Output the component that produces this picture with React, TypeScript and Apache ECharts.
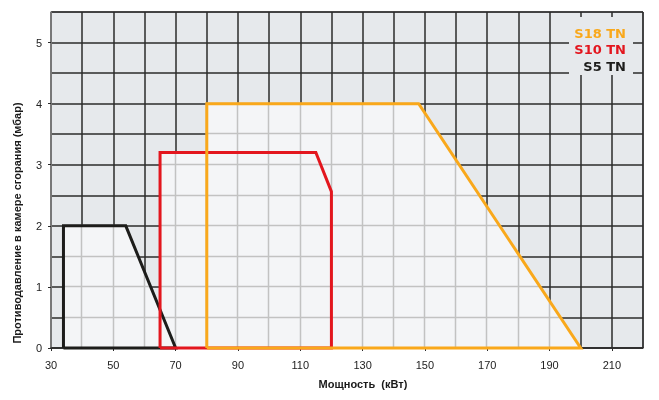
import React, { useEffect, useRef } from "react";
import * as echarts from "echarts";

const seriesNames = ["S5 TN", "S10 TN", "S18 TN"];
const seriesColors = ["#1d1d1b", "#e3161e", "#f9a81b"];
const s5Power = [34, 34, 54, 70, 34];
const s5Pressure = [0, 2, 2, 0, 0];
const s10Power = [65, 65, 115, 120, 120, 65];
const s10Pressure = [0, 3.2, 3.2, 2.56, 0, 0];
const s18Power = [80, 80, 148, 200, 80];
const s18Pressure = [0, 4, 4, 0, 0];
const xTickLabels = [30, 50, 70, 90, 110, 130, 150, 170, 190, 210];
const yTickLabels = [0, 1, 2, 3, 4, 5];
const xGridLines = [40, 50, 60, 70, 80, 90, 100, 110, 120, 130, 140, 150, 160, 170, 180, 190, 200, 210];
const yGridLines = [0.5, 1, 1.5, 2, 2.5, 3, 3.5, 4, 4.5, 5];
const xTitle = "Мощность  (кВт)";
const yTitle = "Противодавление в камере сгорания (мбар)";

const envelopes = [
  s5Power.map((x, i) => [x, s5Pressure[i]]),
  s10Power.map((x, i) => [x, s10Pressure[i]]),
  s18Power.map((x, i) => [x, s18Pressure[i]]),
];

function crossings(poly: number[][], value: number, axis: number): number[] | null {
  const other = 1 - axis;
  const vals: number[] = [];
  for (let i = 0; i < poly.length - 1; i++) {
    const a = poly[i];
    const b = poly[i + 1];
    if (a[axis] === b[axis]) {
      if (a[axis] === value) {
        vals.push(a[other], b[other]);
      }
      continue;
    }
    if ((a[axis] - value) * (b[axis] - value) <= 0) {
      const t = (value - a[axis]) / (b[axis] - a[axis]);
      vals.push(a[other] + t * (b[other] - a[other]));
    }
  }
  if (!vals.length) return null;
  return [Math.min(...vals), Math.max(...vals)];
}

function unionIntervals(value: number, axis: number): number[][] {
  const list: number[][] = [];
  envelopes.forEach((p) => {
    const c = crossings(p, value, axis);
    if (c && c[1] > c[0]) list.push(c);
  });
  list.sort((a, b) => a[0] - b[0]);
  const merged: number[][] = [];
  list.forEach((iv) => {
    const last = merged[merged.length - 1];
    if (last && iv[0] <= last[1]) last[1] = Math.max(last[1], iv[1]);
    else merged.push([iv[0], iv[1]]);
  });
  return merged;
}

function sp(v: number): number {
  const d = Math.round(v * 2);
  return (d + 1) % 2 === 0 ? d / 2 : (d - 1) / 2;
}

const FONT = '"Liberation Sans", Arial, sans-serif';
const OUT_BG = "#e6e9ec";
const IN_BG = "#f4f5f7";
const DARK = "#2b2b2b";

export default function App() {
  const ref = useRef<HTMLDivElement>(null);
  useEffect(() => {
    if (!ref.current) return;
    const chart = echarts.init(ref.current, undefined, { renderer: "svg" });
    const labelStyle = { fontSize: 11, color: "#222", fontFamily: FONT };
    const option: any = {
      animation: false,
      grid: {
        left: 51,
        right: 16,
        top: 12,
        bottom: 52,
        show: true,
        backgroundColor: OUT_BG,
        borderColor: DARK,
        borderWidth: 1,
      },
      xAxis: [
        {
          type: "value",
          min: 30,
          max: 220,
          interval: 10,
          position: "bottom",
          axisLine: { show: true, lineStyle: { color: DARK, width: 1.5 } },
          axisTick: { show: false },
          axisLabel: { show: false },
          splitLine: { show: true, lineStyle: { color: DARK, width: 1.5 } },
        },
        {
          type: "value",
          min: 30,
          max: 220,
          position: "bottom",
          offset: 0,
          axisLine: { show: false },
          axisTick: { show: true, customValues: xTickLabels, length: 3, lineStyle: { color: DARK } },
          axisLabel: { show: true, customValues: xTickLabels, margin: 11, ...labelStyle },
          splitLine: { show: false },
        },
      ],
      yAxis: [
        {
          type: "value",
          min: 0,
          max: 5.5,
          interval: 0.5,
          position: "left",
          axisLine: { show: true, lineStyle: { color: "#8a8a8a", width: 1.5 } },
          axisTick: { show: false },
          axisLabel: { show: false },
          splitLine: { show: true, lineStyle: { color: DARK, width: 1.5 } },
        },
        {
          type: "value",
          min: 0,
          max: 5.5,
          position: "left",
          offset: 0,
          axisLine: { show: false },
          axisTick: { show: true, customValues: yTickLabels, length: 3, lineStyle: { color: DARK } },
          axisLabel: { show: true, customValues: yTickLabels, margin: 9, ...labelStyle },
          splitLine: { show: false },
        },
      ],
      series: [
        {
          type: "custom",
          name: "fill",
          silent: true,
          z: 2,
          data: [[0], [1], [2]],
          renderItem: (params: any, api: any) => {
            const pts = envelopes[params.dataIndex].map((p) => api.coord(p));
            return {
              type: "polygon",
              shape: { points: pts },
              style: { fill: IN_BG, stroke: "none" },
            };
          },
        },
        {
          type: "custom",
          name: "innerGrid",
          silent: true,
          z: 2,
          data: [[0]],
          renderItem: (params: any, api: any) => {
            const children: any[] = [];
            xGridLines.forEach((x) => {
              unionIntervals(x, 0).forEach((iv) => {
                const p1 = api.coord([x, iv[0]]);
                const p2 = api.coord([x, iv[1]]);
                const px = sp(p1[0]);
                children.push({
                  type: "line",
                  shape: { x1: px, y1: p1[1], x2: px, y2: p2[1] },
                  style: { stroke: "#c2c2c2", lineWidth: 1.5 },
                });
              });
            });
            yGridLines.forEach((y) => {
              unionIntervals(y, 1).forEach((iv) => {
                const p1 = api.coord([iv[0], y]);
                const p2 = api.coord([iv[1], y]);
                const py = sp(p1[1]);
                children.push({
                  type: "line",
                  shape: { x1: p1[0], y1: py, x2: p2[0], y2: py },
                  style: { stroke: "#c2c2c2", lineWidth: 1.5 },
                });
              });
            });
            return { type: "group", children };
          },
        },
        ...envelopes.map((pts, i) => ({
          type: "line",
          name: seriesNames[i],
          data: pts,
          showSymbol: false,
          symbol: "none",
          clip: false,
          silent: true,
          z: 3 + i,
          lineStyle: { color: seriesColors[i], width: 3, join: "miter" },
        })),
      ],
      graphic: [
        {
          type: "rect",
          z: 10,
          shape: { x: 569, y: 17, width: 64, height: 58 },
          style: { fill: OUT_BG },
        },
        ...[2, 1, 0].map((si, k) => ({
          type: "text",
          z: 11,
          x: 626,
          y: 33 + k * 16.5,
          style: {
            text: seriesNames[si],
            fill: seriesColors[si],
            font: `bold 13px "DejaVu Sans", ${FONT}`,
            align: "right",
            verticalAlign: "middle",
          },
        })),
        {
          type: "text",
          z: 11,
          x: 363,
          y: 384,
          style: {
            text: xTitle,
            fill: "#1a1a1a",
            font: `bold 11px ${FONT}`,
            align: "center",
            verticalAlign: "middle",
          },
        },
        {
          type: "text",
          z: 11,
          x: 16.5,
          y: 223,
          rotation: Math.PI / 2,
          style: {
            text: yTitle,
            fill: "#1a1a1a",
            font: `bold 11px ${FONT}`,
            align: "center",
            verticalAlign: "middle",
          },
        },
      ],
    };
    chart.setOption(option);
    return () => chart.dispose();
  }, []);
  return (
    <div
      ref={ref}
      style={{ position: "fixed", left: 0, top: 0, width: 659, height: 400 }}
    />
  );
}
